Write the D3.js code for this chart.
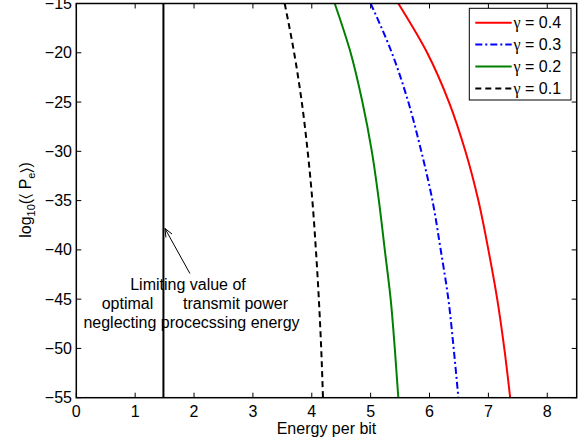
<!DOCTYPE html>
<html>
<head>
<meta charset="utf-8">
<script src="https://cdn.jsdelivr.net/npm/d3@7"></script>
<style>
  body { margin: 0; background: #fff; }
  text { font-family: "Liberation Sans", Arial, sans-serif; fill: #000; }
</style>
</head>
<body>
<svg width="586" height="442"></svg>
<script>
// values
var yLevels = [-15, -20, -25, -30, -35, -40, -45, -50, -55];
var gamma04 = [5.47, 5.96, 6.33, 6.61, 6.83, 7.0, 7.15, 7.27, 7.37];
var gamma03 = [5.0, 5.36, 5.64, 5.86, 6.05, 6.19, 6.32, 6.41, 6.49];
var gamma02 = [4.39, 4.66, 4.86, 5.02, 5.14, 5.24, 5.34, 5.41, 5.47];
var gamma01 = [3.54, 3.70, 3.83, 3.93, 4.01, 4.07, 4.12, 4.16, 4.19];
var limitX = 1.48;
var xTicks = [0, 1, 2, 3, 4, 5, 6, 7, 8];
var yTicks = [-55, -50, -45, -40, -35, -30, -25, -20, -15];
var legendValues = ["0.4", "0.3", "0.2", "0.1"];
var annotation = ["Limiting value of", "optimal", "transmit power", "neglecting procecssing energy"];

var svg = d3.select("svg");

var mLeft = 76.3, mRight = 576.7, mTop = 3.5, mBottom = 397.7;
var fs = 16;

var x = d3.scaleLinear().domain([0, 8.5]).range([mLeft, mRight]);
var y = d3.scaleLinear().domain([-55, -15]).range([mBottom, mTop]);

var series = [
	{ vals: gamma04, color: "#ff0000", dash: null },
	{ vals: gamma03, color: "#0000ff", dash: "7,3,2,3" },
	{ vals: gamma02, color: "#008000", dash: null },
	{ vals: gamma01, color: "#000000", dash: "6,4" }
];

// ticks inside, on all four sides
var tl = 5;
var g = svg.append("g");

xTicks.forEach(function(t) {
	g.append("line").attr("x1", x(t)).attr("x2", x(t)).attr("y1", mBottom).attr("y2", mBottom - tl)
	.attr("stroke", "#000").attr("stroke-width", 1);
	g.append("line").attr("x1", x(t)).attr("x2", x(t)).attr("y1", mTop).attr("y2", mTop + tl)
	.attr("stroke", "#000").attr("stroke-width", 1);
	g.append("text").attr("x", x(t)).attr("y", 417).attr("text-anchor", "middle")
	.attr("font-size", fs).text(t);
});

yTicks.forEach(function(t) {
	g.append("line").attr("x1", mLeft).attr("x2", mLeft + tl).attr("y1", y(t)).attr("y2", y(t))
	.attr("stroke", "#000").attr("stroke-width", 1);
	g.append("line").attr("x1", mRight).attr("x2", mRight - tl).attr("y1", y(t)).attr("y2", y(t))
	.attr("stroke", "#000").attr("stroke-width", 1);
	g.append("text").attr("x", 72).attr("y", y(t) + 5.5).attr("text-anchor", "end")
	.attr("font-size", fs).text(String(t).replace("-", "\u2212"));
});

// curves
var line = d3.line()
.x(function(d) { return x(d[0]); })
.y(function(d) { return y(d[1]); })
.curve(d3.curveMonotoneY);

svg.append("clipPath").attr("id", "clip").append("rect")
.attr("x", mLeft).attr("y", mTop).attr("width", mRight - mLeft).attr("height", mBottom - mTop);

var plot = svg.append("g").attr("clip-path", "url(#clip)");

series.forEach(function(s) {
	var pts = s.vals.map(function(v, i) { return [v, yLevels[i]]; });
	plot.append("path").datum(pts).attr("d", line)
	.attr("fill", "none").attr("stroke", s.color).attr("stroke-width", 2)
	.attr("stroke-dasharray", s.dash);
});

// limiting vertical line
plot.append("line").attr("x1", x(limitX)).attr("x2", x(limitX)).attr("y1", y(-15)).attr("y2", y(-55))
.attr("stroke", "#000").attr("stroke-width", 2);

// axes box
svg.append("rect").attr("x", mLeft).attr("y", mTop).attr("width", mRight - mLeft).attr("height", mBottom - mTop)
.attr("fill", "none").attr("stroke", "#000").attr("stroke-width", 1.5);

// annotation arrow
var ax1 = x(1.93), ay1 = y(-42.4), ax2 = x(1.506), ay2 = y(-37.83);
svg.append("line").attr("x1", ax1).attr("y1", ay1).attr("x2", ax2).attr("y2", ay2)
.attr("stroke", "#000").attr("stroke-width", 1);
var ang = Math.atan2(ay2 - ay1, ax2 - ax1);
var hl = 9, ha = 0.4;
svg.append("path")
.attr("d", "M" + (ax2 - hl * Math.cos(ang - ha)) + "," + (ay2 - hl * Math.sin(ang - ha)) +
	"L" + ax2 + "," + ay2 +
	"L" + (ax2 - hl * Math.cos(ang + ha)) + "," + (ay2 - hl * Math.sin(ang + ha)))
.attr("fill", "none").attr("stroke", "#000").attr("stroke-width", 1);

svg.append("text").attr("x", 188).attr("y", 290).attr("text-anchor", "middle").attr("font-size", fs).text(annotation[0]);
svg.append("text").attr("x", 127.5).attr("y", 309).attr("text-anchor", "middle").attr("font-size", fs).text(annotation[1]);
svg.append("text").attr("x", 235.5).attr("y", 309).attr("text-anchor", "middle").attr("font-size", fs).text(annotation[2]);
svg.append("text").attr("x", 191.5).attr("y", 328).attr("text-anchor", "middle").attr("font-size", fs).text(annotation[3]);

// legend
var lg = svg.append("g");
lg.append("rect").attr("x", 469.3).attr("y", 8.3).attr("width", 101.7).attr("height", 91.7)
.attr("fill", "#fff").attr("stroke", "#000").attr("stroke-width", 1);
series.forEach(function(s, i) {
	var ly = 22.7 + i * 21.9;
	lg.append("line").attr("x1", 475.3).attr("x2", 511.7).attr("y1", ly).attr("y2", ly)
	.attr("stroke", s.color).attr("stroke-width", 2).attr("stroke-dasharray", s.dash);
	var t = lg.append("text").attr("x", 513.5).attr("y", ly + 5.5).attr("font-size", fs);
	t.append("tspan").attr("font-family", "Liberation Serif, serif").text("\u03B3");
	t.append("tspan").text(" = " + legendValues[i]);
});

// axis labels
svg.append("text").attr("x", (mLeft + mRight) / 2).attr("y", 434).attr("text-anchor", "middle")
.attr("font-size", fs).text("Energy per bit");

var yl = svg.append("text").attr("transform", "translate(31,200) rotate(-90)")
.attr("text-anchor", "middle").attr("font-size", fs);
yl.append("tspan").text("log");
yl.append("tspan").attr("font-size", 11).attr("dy", 4).text("10");
yl.append("tspan").attr("dy", -4).text("(\u2329 P");
yl.append("tspan").attr("font-size", 11).attr("dy", 4).text("e");
yl.append("tspan").attr("dy", -4).text("\u232A)");
</script>
</body>
</html>
